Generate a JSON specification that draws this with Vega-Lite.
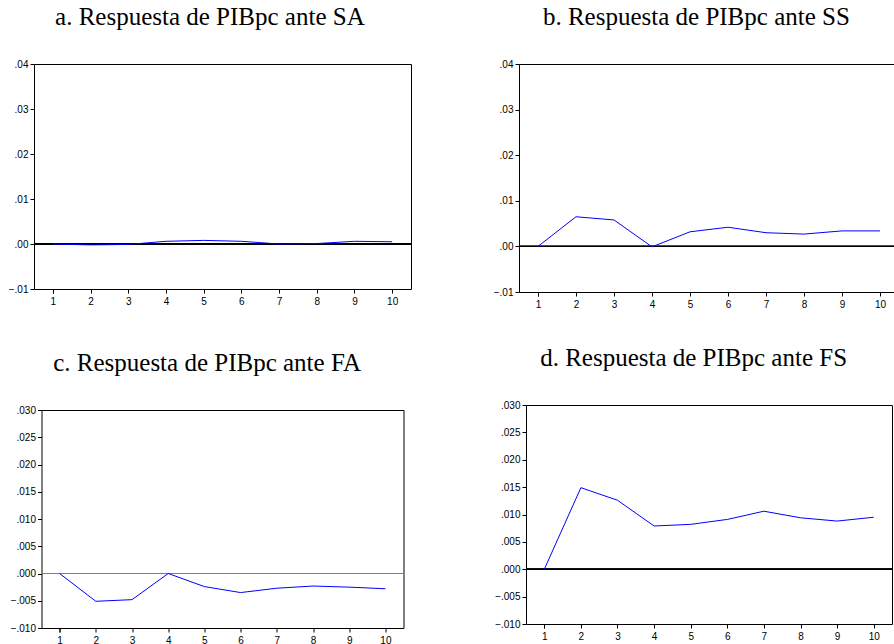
{
  "$schema": "https://vega.github.io/schema/vega-lite/v6.json",
  "padding": {"left": 7, "top": 4, "right": 0, "bottom": 0},
  "background": "white",
  "datasets": {
    "irf": [
      {"panel": "a", "h": 1, "v": 0}, {"panel": "a", "h": 2, "v": -0.0002}, {"panel": "a", "h": 3, "v": -0.0001}, {"panel": "a", "h": 4, "v": 0.0006}, {"panel": "a", "h": 5, "v": 0.0008},
      {"panel": "a", "h": 6, "v": 0.0006}, {"panel": "a", "h": 7, "v": 0.0}, {"panel": "a", "h": 8, "v": 0.0001}, {"panel": "a", "h": 9, "v": 0.0006}, {"panel": "a", "h": 10, "v": 0.0005},
      {"panel": "b", "h": 1, "v": 0}, {"panel": "b", "h": 2, "v": 0.0065}, {"panel": "b", "h": 3, "v": 0.0058}, {"panel": "b", "h": 4, "v": -0.0001}, {"panel": "b", "h": 5, "v": 0.0032},
      {"panel": "b", "h": 6, "v": 0.0042}, {"panel": "b", "h": 7, "v": 0.0030}, {"panel": "b", "h": 8, "v": 0.0027}, {"panel": "b", "h": 9, "v": 0.0034}, {"panel": "b", "h": 10, "v": 0.0034},
      {"panel": "c", "h": 1, "v": 0}, {"panel": "c", "h": 2, "v": -0.0051}, {"panel": "c", "h": 3, "v": -0.0048}, {"panel": "c", "h": 4, "v": 0.0}, {"panel": "c", "h": 5, "v": -0.0024},
      {"panel": "c", "h": 6, "v": -0.0035}, {"panel": "c", "h": 7, "v": -0.0027}, {"panel": "c", "h": 8, "v": -0.0023}, {"panel": "c", "h": 9, "v": -0.0025}, {"panel": "c", "h": 10, "v": -0.0028},
      {"panel": "d", "h": 1, "v": 0}, {"panel": "d", "h": 2, "v": 0.0149}, {"panel": "d", "h": 3, "v": 0.0126}, {"panel": "d", "h": 4, "v": 0.0079}, {"panel": "d", "h": 5, "v": 0.0082},
      {"panel": "d", "h": 6, "v": 0.0091}, {"panel": "d", "h": 7, "v": 0.0106}, {"panel": "d", "h": 8, "v": 0.0094}, {"panel": "d", "h": 9, "v": 0.0088}, {"panel": "d", "h": 10, "v": 0.0095}
    ]
  },
  "config": {
    "view": {"stroke": "black", "strokeWidth": 1},
    "axis": {"labelFont": "Liberation Sans", "labelFontSize": 10, "labelColor": "black", "tickColor": "black", "tickSize": 4, "domain": false, "grid": false, "title": null, "labelOverlap": false},
    "axisX": {"labelAngle": 0, "labelPadding": 3, "tickBand": "extent"},
    "axisY": {"labelPadding": 2},
    "title": {"font": "Liberation Serif", "fontSize": 25, "fontWeight": "normal", "color": "black", "anchor": "middle", "frame": "bounds", "baseline": "alphabetic", "offset": 29},
    "line": {"color": "#0000ff", "strokeWidth": 1},
    "rule": {"color": "black", "strokeWidth": 1}
  },
  "spacing": 80,
  "hconcat": [
    {
      "vconcat": [
        {
          "title": {"text": "a. Respuesta de PIBpc ante SA"},
          "width": 377, "height": 225,
          "data": {"name": "irf"},
          "transform": [{"filter": "datum.panel === 'a'"}],
          "layer": [
            {"mark": "rule", "encoding": {"y": {"datum": 0, "type": "quantitative", "scale": {"domain": [-0.01, 0.04], "nice": false, "zero": false},
                    "axis": {"values": [-0.01, 0, 0.01, 0.02, 0.03, 0.04], "labelExpr": "replace(format(datum.value, '.2f'), '0.', '.')"}}}},
            {"mark": "line", "encoding": {
              "x": {"field": "h", "type": "ordinal", "scale": {"paddingInner": 0, "paddingOuter": 0}},
              "y": {"field": "v", "type": "quantitative", "scale": {"domain": [-0.01, 0.04], "nice": false, "zero": false},
                    "axis": {"values": [-0.01, 0, 0.01, 0.02, 0.03, 0.04], "labelExpr": "replace(format(datum.value, '.2f'), '0.', '.')"}}
            }}
          ]
        },
        {
          "title": {"text": "c. Respuesta de PIBpc ante FA"},
          "width": 362, "height": 218,
          "data": {"name": "irf"},
          "transform": [{"filter": "datum.panel === 'c'"}],
          "layer": [
            {"mark": {"type": "rule", "color": "#808080"}, "encoding": {"y": {"datum": 0, "type": "quantitative", "scale": {"domain": [-0.01, 0.03], "nice": false, "zero": false},
                    "axis": {"values": [-0.01, -0.005, 0, 0.005, 0.01, 0.015, 0.02, 0.025, 0.03], "labelExpr": "replace(format(datum.value, '.3f'), '0.', '.')"}}}},
            {"mark": "line", "encoding": {
              "x": {"field": "h", "type": "ordinal", "scale": {"paddingInner": 0, "paddingOuter": 0}},
              "y": {"field": "v", "type": "quantitative", "scale": {"domain": [-0.01, 0.03], "nice": false, "zero": false},
                    "axis": {"values": [-0.01, -0.005, 0, 0.005, 0.01, 0.015, 0.02, 0.025, 0.03], "labelExpr": "replace(format(datum.value, '.3f'), '0.', '.')"}}
            }}
          ]
        }
      ],
      "spacing": 121,
      "center": true,
      "bounds": "flush"
    },
    {
      "vconcat": [
        {
          "title": {"text": "b. Respuesta de PIBpc ante SS"},
          "width": 380, "height": 228,
          "data": {"name": "irf"},
          "transform": [{"filter": "datum.panel === 'b'"}],
          "layer": [
            {"mark": "rule", "encoding": {"y": {"datum": 0, "type": "quantitative", "scale": {"domain": [-0.01, 0.04], "nice": false, "zero": false},
                    "axis": {"values": [-0.01, 0, 0.01, 0.02, 0.03, 0.04], "labelExpr": "replace(format(datum.value, '.2f'), '0.', '.')"}}}},
            {"mark": "line", "encoding": {
              "x": {"field": "h", "type": "ordinal", "scale": {"paddingInner": 0, "paddingOuter": 0}},
              "y": {"field": "v", "type": "quantitative", "scale": {"domain": [-0.01, 0.04], "nice": false, "zero": false},
                    "axis": {"values": [-0.01, 0, 0.01, 0.02, 0.03, 0.04], "labelExpr": "replace(format(datum.value, '.2f'), '0.', '.')"}}
            }}
          ]
        },
        {
          "title": {"text": "d. Respuesta de PIBpc ante FS"},
          "width": 366, "height": 219,
          "data": {"name": "irf"},
          "transform": [{"filter": "datum.panel === 'd'"}],
          "layer": [
            {"mark": "rule", "encoding": {"y": {"datum": 0, "type": "quantitative", "scale": {"domain": [-0.01, 0.03], "nice": false, "zero": false},
                    "axis": {"values": [-0.01, -0.005, 0, 0.005, 0.01, 0.015, 0.02, 0.025, 0.03], "labelExpr": "replace(format(datum.value, '.3f'), '0.', '.')"}}}},
            {"mark": "line", "encoding": {
              "x": {"field": "h", "type": "ordinal", "scale": {"paddingInner": 0, "paddingOuter": 0}},
              "y": {"field": "v", "type": "quantitative", "scale": {"domain": [-0.01, 0.03], "nice": false, "zero": false},
                    "axis": {"values": [-0.01, -0.005, 0, 0.005, 0.01, 0.015, 0.02, 0.025, 0.03], "labelExpr": "replace(format(datum.value, '.3f'), '0.', '.')"}}
            }}
          ]
        }
      ],
      "spacing": 113,
      "center": true,
      "bounds": "flush"
    }
  ]
}
